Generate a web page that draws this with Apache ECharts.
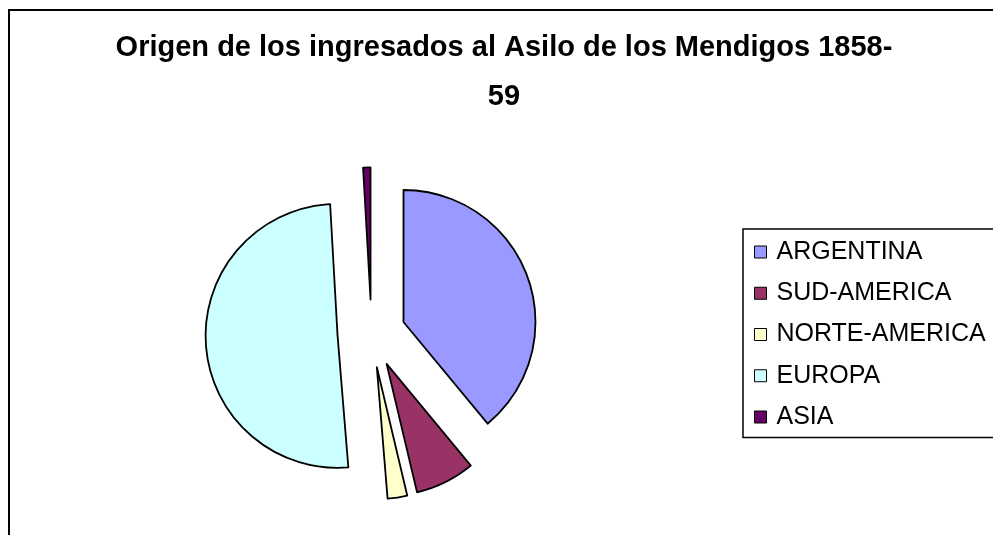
<!DOCTYPE html>
<html>
<head>
<meta charset="utf-8">
<script src="https://cdn.jsdelivr.net/npm/echarts@6/dist/echarts.min.js"></script>
<style>
  html, body { margin: 0; padding: 0; background: #fff; }
  #chart { width: 993px; height: 535px; }
</style>
</head>
<body>
<div id="chart"></div>
<script>
// origin of people admitted (share, %)
const categories = ["ARGENTINA", "SUD-AMERICA", "NORTE-AMERICA", "EUROPA", "ASIA"];
const values = [39.0, 7.3, 2.4, 50.4, 0.9];
const colors = ["#9999FF", "#993366", "#FFFFCC", "#CCFFFF", "#660066"];

const font = "'Liberation Sans', Arial, sans-serif";
const chart = echarts.init(document.getElementById("chart"));

chart.setOption({
  animation: false,
  title: {
    text: "Origen de los ingresados al Asilo de los Mendigos 1858-\n59",
    left: 504,
    top: 23.5,
    padding: 0,
    textAlign: "center",
    textStyle: {
      fontFamily: font,
      fontSize: 29,
      fontWeight: "bold",
      color: "#000",
      lineHeight: 49,
    },
  },
  legend: {
    orient: "vertical",
    left: 743,
    top: 229,
    padding: [10.5, 40, 8, 11],
    itemGap: 16.25,
    itemWidth: 12,
    itemHeight: 12,
    icon: "rect",
    selectedMode: false,
    borderColor: "#000",
    borderWidth: 1.5,
    itemStyle: { borderColor: "#000", borderWidth: 1 },
    textStyle: {
      fontFamily: font,
      fontSize: 25,
      lineHeight: 25,
      color: "#000",
      padding: [0, 0, 0, 5],
    },
    data: categories,
  },
  graphic: [
    {
      type: "rect",
      shape: { x: 9, y: 10, width: 1200, height: 800 },
      style: { fill: "none", stroke: "#000", lineWidth: 2 },
      silent: true,
    },
  ],
  series: [
    {
      type: "pie",
      center: [371.5, 333.5],
      radius: 132,
      startAngle: 90,
      clockwise: true,
      selectedMode: "multiple",
      selectedOffset: 34,
      label: { show: false },
      labelLine: { show: false },
      itemStyle: { borderColor: "#000", borderWidth: 1.8 },
      emphasis: { disabled: true },
      data: categories.map((name, i) => ({
        name: name,
        value: values[i],
        selected: true,
        itemStyle: { color: colors[i] },
      })),
    },
  ],
});
</script>
</body>
</html>
